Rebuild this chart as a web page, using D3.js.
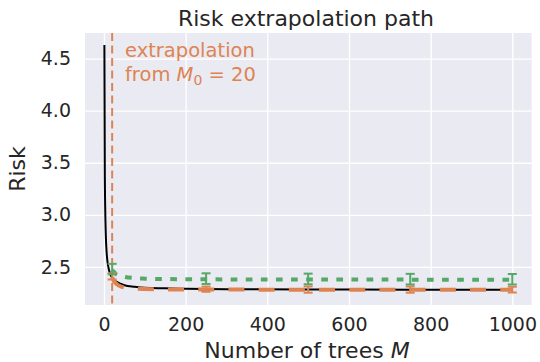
<!DOCTYPE html>
<html><head><meta charset="utf-8">
<script src="https://cdn.jsdelivr.net/npm/d3@7"></script>
<style>body{margin:0;background:#fff}text{font-family:"DejaVu Sans",sans-serif}</style>
</head><body><svg id="c" width="540" height="362"></svg>
<script>
// Data
const blackM    = [1, 2, 3, 4, 5, 6, 8, 10, 12, 15, 20, 25, 30, 40, 50, 75, 100, 150, 200, 300, 500, 750, 1000];
const blackRisk = [4.63, 3.45, 3.06, 2.87, 2.75, 2.67, 2.57, 2.515, 2.475, 2.435, 2.395, 2.375, 2.36, 2.34, 2.325, 2.31, 2.30, 2.295, 2.29, 2.287, 2.284, 2.282, 2.281];
const orangeM    = [20, 25, 30, 40, 50, 60, 80, 100, 150, 200, 300, 500, 750, 1000];
const orangeRisk = [2.40, 2.36, 2.34, 2.315, 2.303, 2.297, 2.291, 2.288, 2.285, 2.284, 2.283, 2.282, 2.282, 2.282];
const greenM    = [20, 25, 30, 35, 50, 75, 100, 150, 200, 400, 600, 1000];
const greenRisk = [2.47, 2.45, 2.43, 2.42, 2.405, 2.393, 2.388, 2.384, 2.382, 2.38, 2.379, 2.378];
const errM        = [20, 250, 500, 750, 1000];
const greenMean   = [2.48, 2.388, 2.385, 2.383, 2.382];
const greenErr    = [0.05, 0.051, 0.051, 0.051, 0.05];
const orangeMean  = [2.41, 2.287, 2.283, 2.283, 2.283];
const orangeErr   = [0.03, 0.025, 0.03, 0.03, 0.028];
const xTicks = [0, 200, 400, 600, 800, 1000];
const yTicks = [2.5, 3.0, 3.5, 4.0, 4.5];
const M0 = 20;

const ORANGE = "#dd8452", GREEN = "#55a868";
const svg = d3.select("#c");
const L = 85, R = 531.7, T = 33, B = 305;
const x = d3.scaleLinear().domain([-46.5, 1047.5]).range([L, R]);
const y = d3.scaleLinear().domain([2.135, 4.745]).range([B, T]);

svg.append("rect").attr("x", L).attr("y", T).attr("width", R - L).attr("height", B - T).attr("fill", "#eaeaf2");

const gx = svg.append("g").attr("transform", `translate(0,${B})`)
  .call(d3.axisBottom(x).tickValues(xTicks).tickSize(-(B - T)).tickPadding(13).tickFormat(d3.format("d")));
const gy = svg.append("g").attr("transform", `translate(${L},0)`)
  .call(d3.axisLeft(y).tickValues(yTicks).tickSize(-(R - L)).tickPadding(14).tickFormat(d3.format(".1f")));
[gx, gy].forEach(g => {
  g.select(".domain").remove();
  g.selectAll("line").attr("stroke", "#fff").attr("stroke-width", 1.3);
  g.selectAll("text").attr("fill", "#262626").style("font-size", "19px").style("font-family", "DejaVu Sans");
});
gx.selectAll("text").attr("dy", "0.71em");

const clip = svg.append("clipPath").attr("id", "pc").append("rect")
  .attr("x", L).attr("y", T).attr("width", R - L).attr("height", B - T);
const plot = svg.append("g").attr("clip-path", "url(#pc)");

const line = d3.line().x(d => x(d[0])).y(d => y(d[1])).curve(d3.curveMonotoneX);

// vertical dashed marker at M0
plot.append("line").attr("x1", x(M0)).attr("x2", x(M0)).attr("y1", T).attr("y2", B)
  .attr("stroke", ORANGE).attr("stroke-width", 2).attr("stroke-dasharray", "8,4.5");

plot.append("path").datum(blackM.map((m, i) => [m, blackRisk[i]]))
  .attr("d", line).attr("fill", "none").attr("stroke", "#000").attr("stroke-width", 2);

plot.append("path").datum(orangeM.map((m, i) => [m, orangeRisk[i]]))
  .attr("d", line).attr("fill", "none").attr("stroke", ORANGE).attr("stroke-width", 4)
  .attr("stroke-dasharray", "16,14.2");

plot.append("path").datum(greenM.map((m, i) => [m, greenRisk[i]]))
  .attr("d", line).attr("fill", "none").attr("stroke", GREEN).attr("stroke-width", 4)
  .attr("stroke-dasharray", "6.7,8.4");

function errorBars(mean, err, color) {
  const g = plot.append("g").attr("stroke", color).attr("stroke-width", 2);
  errM.forEach((m, i) => {
    const cx = x(m), y0 = y(mean[i] - err[i]), y1 = y(mean[i] + err[i]);
    g.append("line").attr("x1", cx).attr("x2", cx).attr("y1", y0).attr("y2", y1);
    g.append("line").attr("x1", cx - 4.5).attr("x2", cx + 4.5).attr("y1", y0).attr("y2", y0);
    g.append("line").attr("x1", cx - 4.5).attr("x2", cx + 4.5).attr("y1", y1).attr("y2", y1);
  });
}
errorBars(orangeMean, orangeErr, ORANGE);
errorBars(greenMean, greenErr, GREEN);

// annotation
const ann = svg.append("text").attr("x", 125).attr("y", 56.7).attr("fill", ORANGE).style("font-size", "19.5px");
ann.append("tspan").attr("x", 125).text("extrapolation");
const l2 = svg.append("text").attr("x", 125).attr("y", 80.7).attr("fill", ORANGE).style("font-size", "19.5px");
l2.append("tspan").text("from ");
l2.append("tspan").style("font-style", "italic").text("M");
l2.append("tspan").attr("dy", 4).style("font-size", "14px").text("0");
l2.append("tspan").attr("dy", -4).text(" = 20");

// title & labels
svg.append("text").attr("x", 306).attr("y", 26).attr("text-anchor", "middle")
  .attr("fill", "#262626").style("font-size", "22px").text("Risk extrapolation path");
const xl = svg.append("text").attr("x", 307).attr("y", 358).attr("text-anchor", "middle")
  .attr("fill", "#262626").style("font-size", "22px");
xl.append("tspan").text("Number of trees ");
xl.append("tspan").style("font-style", "italic").text("M");
svg.append("text").attr("transform", `translate(25,${(T + B) / 2}) rotate(-90)`).attr("text-anchor", "middle")
  .attr("fill", "#262626").style("font-size", "22px").text("Risk");
</script></body></html>
